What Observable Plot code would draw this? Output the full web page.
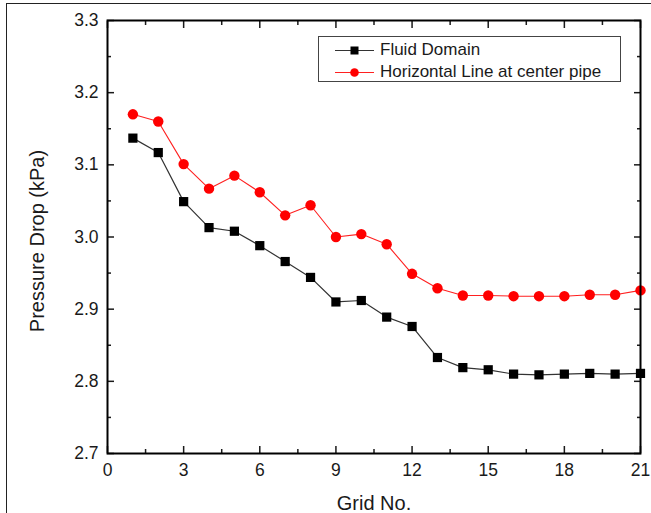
<!DOCTYPE html>
<html><head><meta charset="utf-8">
<script src="https://cdn.jsdelivr.net/npm/d3@7"></script>
<script src="https://cdn.jsdelivr.net/npm/@observablehq/plot@0.6"></script>
<style>
body{margin:0;background:#fff;}
#wrap{position:relative;width:651px;height:513px;overflow:hidden;font-family:"Liberation Sans",Arial,sans-serif;color:#1a1a1a;}
#border{position:absolute;left:6px;top:3px;right:-4px;bottom:-4px;border-left:1.5px solid #222;border-top:1.5px solid #222;pointer-events:none;}
#chart{position:absolute;left:0;top:0;}
#legend{position:absolute;left:318px;top:36px;width:303px;height:46px;border:1px solid #444;box-sizing:border-box;background:#fff;font-size:17px;}
.row{position:absolute;left:0;height:22px;display:flex;align-items:center;}
.row svg{margin-left:16px;}
.row span{margin-left:5px;white-space:nowrap;}
</style></head>
<body><div id="wrap"><div id="chart"></div><div id="legend"></div><div id="border"></div></div>
<script>
const grid = [1,2,3,4,5,6,7,8,9,10,11,12,13,14,15,16,17,18,19,20,21];
const fluidDomain = [3.137,3.117,3.049,3.013,3.008,2.988,2.966,2.944,2.910,2.912,2.889,2.876,2.833,2.819,2.816,2.810,2.809,2.810,2.811,2.810,2.811];
const horizontalLine = [3.170,3.160,3.101,3.067,3.085,3.062,3.030,3.044,3.000,3.004,2.990,2.949,2.929,2.919,2.919,2.918,2.918,2.918,2.920,2.920,2.926];
const seriesNames = ["Fluid Domain","Horizontal Line at center pipe"];
const xTicks = [0,3,6,9,12,15,18,21];
const xMinor = [1.5,4.5,7.5,10.5,13.5,16.5,19.5];
const yTicks = [2.7,2.8,2.9,3.0,3.1,3.2,3.3];
const yMinor = [2.75,2.85,2.95,3.05,3.15,3.25];
const xTitle = "Grid No.";
const yTitle = "Pressure Drop (kPa)";

const fluid = grid.map((g,i)=>({grid:g,value:fluidDomain[i]}));
const horiz = grid.map((g,i)=>({grid:g,value:horizontalLine[i]}));
const blank = () => "";

const chart = Plot.plot({
  width:651, height:513,
  marginLeft:107, marginRight:11, marginTop:20, marginBottom:60,
  x:{domain:[0,21]},
  y:{domain:[2.7,3.3]},
  style:{fontFamily:"'Liberation Sans', Arial, sans-serif", fontSize:"17.5px", color:"#1a1a1a", background:"transparent", overflow:"visible"},
  marks:[
    Plot.lineY(horiz,{x:"grid",y:"value",stroke:"#ff2020",strokeWidth:1.1}),
    Plot.dot(horiz,{x:"grid",y:"value",symbol:"circle",r:5.2,fill:"#ff0000",stroke:"none"}),
    Plot.lineY(fluid,{x:"grid",y:"value",stroke:"#333",strokeWidth:1.2}),
    Plot.dot(fluid,{x:"grid",y:"value",symbol:"square",r:5.2,fill:"#000",stroke:"none"}),
    Plot.axisX(xTicks,{anchor:"bottom",tickSize:-7,tickPadding:17,strokeWidth:1.5,tickFormat:d=>d,label:null}),
    Plot.axisX(xMinor,{anchor:"bottom",tickSize:-4,strokeWidth:1.5,tickFormat:blank,label:null}),
    Plot.axisX(xTicks,{anchor:"top",tickSize:-7,strokeWidth:1.5,tickFormat:blank,label:null}),
    Plot.axisX(xMinor,{anchor:"top",tickSize:-4,strokeWidth:1.5,tickFormat:blank,label:null}),
    Plot.axisY(yTicks,{anchor:"left",tickSize:-7,tickPadding:16,strokeWidth:1.5,tickFormat:d3.format(".1f"),label:null}),
    Plot.axisY(yMinor,{anchor:"left",tickSize:-4,strokeWidth:1.5,tickFormat:blank,label:null}),
    Plot.axisY(yTicks,{anchor:"right",tickSize:-7,strokeWidth:1.5,tickFormat:blank,label:null}),
    Plot.axisY(yMinor,{anchor:"right",tickSize:-4,strokeWidth:1.5,tickFormat:blank,label:null}),
    Plot.frame({stroke:"#000",strokeWidth:2}),
    Plot.text([xTitle],{text:d=>d,frameAnchor:"bottom",dy:50,textAnchor:"middle",lineAnchor:"middle",fontSize:20,fill:"#1a1a1a"}),
    Plot.text([yTitle],{text:d=>d,frameAnchor:"left",dx:-70,dy:4,rotate:-90,textAnchor:"middle",lineAnchor:"middle",fontSize:20,fill:"#1a1a1a"})
  ]
});
document.getElementById("chart").append(chart);

const legend = document.getElementById("legend");
const styles = [
  {stroke:"#333", fill:"#000", shape:"square"},
  {stroke:"#ff2020", fill:"#ff0000", shape:"circle"}
];
seriesNames.forEach((name,i)=>{
  const row = document.createElement("div");
  row.className = "row";
  row.style.top = (2 + i*22) + "px";
  const s = styles[i];
  const marker = s.shape === "square"
    ? `<rect x="15.5" y="6.5" width="8" height="8" fill="${s.fill}"/>`
    : `<circle cx="19.5" cy="10.5" r="4.3" fill="${s.fill}"/>`;
  row.innerHTML = `<svg width="40" height="21"><line x1="0" y1="10.5" x2="39" y2="10.5" stroke="${s.stroke}" stroke-width="1.2"/>${marker}</svg><span>${name}</span>`;
  legend.append(row);
});
</script>
</body></html>
